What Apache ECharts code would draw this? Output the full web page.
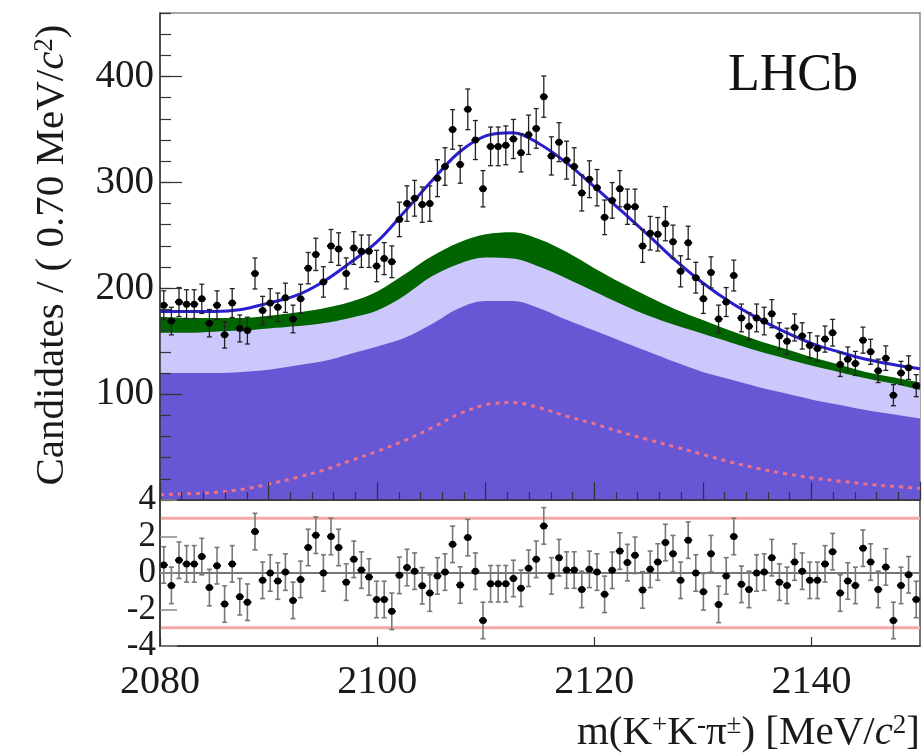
<!DOCTYPE html>
<html><head><meta charset="utf-8">
<script src="https://cdn.jsdelivr.net/npm/echarts@6/dist/echarts.min.js"></script>
<style>html,body{margin:0;padding:0;background:#fff}#c{width:923px;height:753px}</style>
</head><body><div id="c"></div>
<script>
// ---- data ----
const xTickLabels = [2080, 2100, 2120, 2140];
const yTickLabels = [100, 200, 300, 400];
const pullTickLabels = [-4, -2, 0, 2, 4];
const binStart = 2080, binWidth = 0.7;
const counts = [184,169,187,185,185,190,167,184,156,186,
162,160,214,179,186,182,191,171,190,219,
232,206,240,237,214,238,235,235,221,228,
225,265,280,285,279,280,304,315,350,317,
369,340,294,334,334,335,341,328,345,351,
381,325,338,321,315,290,303,295,267,283,
294,277,277,240,252,251,261,244,216,243,
210,190,215,171,187,212,172,164,172,169,
176,155,150,163,155,146,143,152,158,128,
133,129,151,140,122,134,99,120,125,108];
const pulls = [0.44,-0.68,0.7,0.5,0.5,0.9,-0.8,0.4,-1.7,0.5,
-1.3,-1.6,2.27,-0.4,0.0,-0.44,0.05,-1.5,-0.35,1.4,
2.07,0.0,2.0,1.4,-0.5,0.75,0.16,-0.22,-1.45,-1.45,
-2.1,-0.13,0.3,0.1,-0.7,-1.1,-0.16,0.05,1.57,-0.66,
1.94,0.1,-2.6,-0.59,-0.59,-0.59,-0.3,-0.84,0.26,0.75,
2.58,-0.16,0.84,0.16,0.16,-0.9,0.2,0.05,-1.17,0.15,
1.2,0.57,0.97,-0.93,0.2,0.6,1.67,1.06,-0.4,1.8,
0.0,-1.03,1.06,-1.72,-0.16,2.0,-0.62,-0.9,0.0,0.05,
0.84,-0.5,-0.68,0.6,0.1,-0.4,-0.4,0.5,1.17,-1.1,
-0.44,-0.68,1.36,0.6,-0.9,0.33,-2.6,-0.68,-0.1,-1.45];
const curveMass = [2080,2082.5,2085,2087.5,2090,2092.5,2095,2097.5,2100,2102.5,2105,2107.5,2110,2112.5,2115,2117.5,2120,2122.5,2125,2127.5,2130,2132.5,2135,2137.5,2140,2142.5,2145,2147.5,2150];
const bkgDarkTop  = [120,120,120,121,123,127,131,138,145,153,166,181,188,188,181,170,160,150,140,130,121,114,107,101,95,90,85,81,77];
const bkgLightTop = [158,158,159,160,162,164,167,172,179,193,211,223,229,228,220,209,197,185,174,165,157,149,141,134,127,121,115,110,104];
const bkgGreenTop = [173,172,172,172,174,177,181,187,197,213,230,243,251,253,246,234,219,205,192,180,170,160,151,143,135,128,121,116,111];
const totalFit    = [178,178,178,180,186,193,206,224,244,272,301,328,344,347,336,318,296,273,250,226,205,187,172,159,148,140,133,128,124];
const signalFit   = [5,6,7,10,15,21,28,37,46,56,68,81,90,92,87,79,72,64,57,50,43,36,30,25,21,18,15,13,11];

// ---- chart ----
const FONT = 'Liberation Serif';
const centers = counts.map((_, i) => +(binStart + binWidth * (i + 0.5)).toFixed(3));
const curve = arr => curveMass.map((m, i) => [m, arr[i]]);
const dataPts = counts.map((c, i) => [centers[i], c, Math.sqrt(c)]);
const pullPts = pulls.map((p, i) => [centers[i], p, 1]);

function errRender(capW, r, barColor, ptColor, bw) {
  return function (params, api) {
    const x = api.value(0), y = api.value(1), e = api.value(2);
    const p = api.coord([x, y]);
    const lo = api.coord([x, y - e]), hi = api.coord([x, y + e]);
    const st = { stroke: barColor, lineWidth: bw };
    return { type: 'group', children: [
      { type: 'line', shape: { x1: p[0], y1: lo[1], x2: p[0], y2: hi[1] }, style: st },
      { type: 'line', shape: { x1: p[0] - capW, y1: lo[1], x2: p[0] + capW, y2: lo[1] }, style: st },
      { type: 'line', shape: { x1: p[0] - capW, y1: hi[1], x2: p[0] + capW, y2: hi[1] }, style: st },
      { type: 'line', shape: { x1: p[0] - 4, y1: p[1], x2: p[0] + 4, y2: p[1] }, style: { stroke: ptColor, lineWidth: 2 } },
      { type: 'circle', shape: { cx: p[0], cy: p[1], r: r }, style: { fill: ptColor } }
    ]};
  };
}

const tickStyle = { color: '#333', width: 1.2 };
const grayTick = { color: '#888', width: 1.5 };
const chart = echarts.init(document.getElementById('c'), null, { renderer: 'canvas' });
const option = {
  animation: false,
  backgroundColor: '#fff',
  grid: [
    { left: 160, right: 3, top: 13, height: 487, show: true, borderColor: '#888', borderWidth: 1.5,
      containLabel: false, outerBoundsMode: 'none' },
    { left: 160, right: 3, top: 500, height: 146, show: true, borderColor: '#444', borderWidth: 1.5,
      containLabel: false, outerBoundsMode: 'none' }
  ],
  xAxis: [
    { gridIndex: 0, type: 'value', position: 'bottom', min: 2080, max: 2150, interval: 2, z: 10,
      axisLine: { show: true, onZero: false, lineStyle: { color: '#333', width: 1.5 } },
      axisTick: { inside: true, length: 8, lineStyle: tickStyle },
      axisLabel: { show: false }, splitLine: { show: false } },
    { gridIndex: 0, type: 'value', position: 'bottom', min: 2080, max: 2150, interval: 10, z: 10,
      axisLine: { show: false, onZero: false },
      axisTick: { inside: true, length: 18, lineStyle: tickStyle },
      axisLabel: { show: false }, splitLine: { show: false } },
    { gridIndex: 1, type: 'value', position: 'bottom', min: 2080, max: 2150, interval: 20, z: 10,
      axisLine: { show: true, onZero: false, lineStyle: { color: '#333', width: 1.5 } },
      axisTick: { inside: true, length: 9, lineStyle: tickStyle },
      axisLabel: { show: true, margin: 16, fontSize: 40, fontFamily: FONT, color: '#1a1a1a',
        showMaxLabel: false,
        formatter: v => xTickLabels.includes(v) ? String(v) : '' },
      splitLine: { show: false } }
  ],
  yAxis: [
    { gridIndex: 0, type: 'value', position: 'left', min: 0, max: 460, interval: 20, z: 10,
      axisLine: { show: true, onZero: false, lineStyle: { color: '#333', width: 1.5 } },
      axisTick: { inside: true, length: 11, lineStyle: tickStyle },
      axisLabel: { show: false }, splitLine: { show: false } },
    { gridIndex: 0, type: 'value', position: 'left', min: 0, max: 460, interval: 100, z: 10,
      axisLine: { show: false, onZero: false },
      axisTick: { inside: true, length: 22, lineStyle: tickStyle },
      axisLabel: { show: true, margin: 6, fontSize: 39, fontFamily: FONT, color: '#1a1a1a',
        showMaxLabel: false, showMinLabel: false,
        formatter: v => yTickLabels.includes(v) ? String(v) : '' },
      splitLine: { show: false } },
    { gridIndex: 1, type: 'value', position: 'left', min: -4, max: 4, interval: 2, z: 10,
      axisLine: { show: true, onZero: false, lineStyle: { color: '#333', width: 1.5 } },
      axisTick: { inside: true, length: 17, lineStyle: grayTick },
      axisLabel: { show: true, margin: 4, fontSize: 35, fontFamily: FONT, color: '#1a1a1a',
        formatter: v => pullTickLabels.includes(v) ? String(v) : '' },
      splitLine: { show: false } }
  ],
  series: [
    { type: 'line', xAxisIndex: 0, yAxisIndex: 0, data: curve(bkgGreenTop), smooth: 0.35, symbol: 'none',
      lineStyle: { width: 0 }, areaStyle: { color: '#006400', opacity: 1, origin: 'start' }, z: 1 },
    { type: 'line', xAxisIndex: 0, yAxisIndex: 0, data: curve(bkgLightTop), smooth: 0.35, symbol: 'none',
      lineStyle: { width: 0 }, areaStyle: { color: '#cdc8fb', opacity: 1, origin: 'start' }, z: 2 },
    { type: 'line', xAxisIndex: 0, yAxisIndex: 0, data: curve(bkgDarkTop), smooth: 0.35, symbol: 'none',
      lineStyle: { width: 0 }, areaStyle: { color: '#6757d4', opacity: 1, origin: 'start' }, z: 3 },
    { type: 'line', xAxisIndex: 0, yAxisIndex: 0, data: curve(signalFit), smooth: 0.35, symbol: 'none',
      lineStyle: { width: 3, color: '#f07088', type: [4, 5] }, z: 4 },
    { type: 'line', xAxisIndex: 0, yAxisIndex: 0, data: curve(totalFit), smooth: 0.35, symbol: 'none',
      lineStyle: { width: 3, color: '#2a1fd0' }, z: 5 },
    { type: 'custom', xAxisIndex: 0, yAxisIndex: 0, data: dataPts, encode: { x: 0, y: 1 },
      renderItem: errRender(2.5, 3.5, '#222', '#000', 1.3), z: 6 },
    { type: 'line', xAxisIndex: 2, yAxisIndex: 2, data: [[2080, 0], [2150, 0]], symbol: 'none',
      lineStyle: { width: 2, color: '#777' }, z: 1 },
    { type: 'line', xAxisIndex: 2, yAxisIndex: 2, data: [[2080, 3], [2150, 3]], symbol: 'none',
      lineStyle: { width: 3, color: '#f4a8a8' }, z: 1 },
    { type: 'line', xAxisIndex: 2, yAxisIndex: 2, data: [[2080, -3], [2150, -3]], symbol: 'none',
      lineStyle: { width: 3, color: '#f4a8a8' }, z: 1 },
    { type: 'custom', xAxisIndex: 2, yAxisIndex: 2, data: pullPts, encode: { x: 0, y: 1 },
      renderItem: errRender(2.5, 3.5, '#777', '#000', 1.6), z: 6 }
  ],
  graphic: [
    { type: 'text', left: 728, top: 50, z: 20,
      style: { text: 'LHCb', fontSize: 52, fontFamily: FONT, fill: '#111' } },
    { type: 'text', x: 52, y: 255, rotation: Math.PI / 2, z: 20,
      style: {
        text: '{n|Candidates / ( 0.70 MeV/}{i|c}{s|2}{n|)}',
        align: 'center', verticalAlign: 'middle', fontSize: 41, fontFamily: FONT, fill: '#1a1a1a',
        rich: {
          n: { fontSize: 41, fontFamily: FONT, fill: '#1a1a1a' },
          i: { fontSize: 41, fontFamily: FONT, fontStyle: 'italic', fill: '#1a1a1a' },
          s: { fontSize: 27, fontFamily: FONT, verticalAlign: 'top', fill: '#1a1a1a' }
        }
      } },
    { type: 'text', x: 920, y: 733, z: 20,
      style: {
        text: '{n|m(K}{s|+}{n|K}{s|-}{n|π}{s|±}{n|) [MeV/}{i|c}{s|2}{n|]}',
        align: 'right', verticalAlign: 'middle', fontSize: 41, fontFamily: FONT, fill: '#1a1a1a',
        rich: {
          n: { fontSize: 41, fontFamily: FONT, fill: '#1a1a1a' },
          i: { fontSize: 41, fontFamily: FONT, fontStyle: 'italic', fill: '#1a1a1a' },
          s: { fontSize: 27, fontFamily: FONT, verticalAlign: 'top', fill: '#1a1a1a' }
        }
      } }
  ]
};
chart.setOption(option);
</script>
</body></html>
